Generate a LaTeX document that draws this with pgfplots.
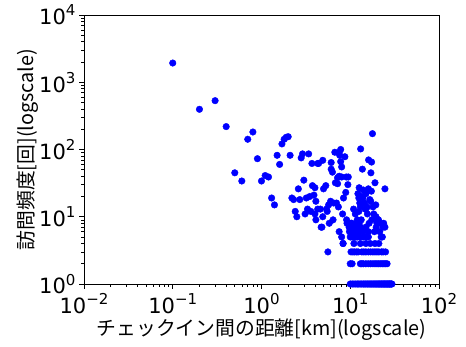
\documentclass[border=0pt]{standalone}
\usepackage{fontspec}
\setmainfont{DejaVu Sans}
\newfontfamily\jp{Noto Sans CJK JP}
\usepackage{pgfplots}
\pgfplotsset{compat=1.18}
\newcommand{\tl}[1]{10\raisebox{0.42em}{\fontsize{15}{15}\selectfont #1}}
\begin{document}
\begin{tikzpicture}
\begin{axis}[
  at={(0,0)}, anchor=south west,
  scale only axis, width=355pt, height=269pt,
  xmode=log, ymode=log,
  xmin=0.01, xmax=100, ymin=1, ymax=10000,
  xtick={0.01,0.1,1,10,100},
  xticklabels={\tl{−2},\tl{−1},\tl{0},\tl{1},\tl{2}},
  ytick={1,10,100,1000,10000},
  yticklabels={\tl{0},\tl{1},\tl{2},\tl{3},\tl{4}},
  tick pos=left, tick align=outside,
  major tick length=5pt, minor tick length=3pt,
  every tick/.style={black, line width=0.6pt},
  axis line style={line width=0.7pt},
  ticklabel style={font=\fontsize{21}{21}\selectfont},
  xticklabel style={yshift=-1pt},
  xlabel={\jp チェックイン間の距離[km](logscale)},
  ylabel={\jp 訪問頻度[回](logscale)},
  label style={font=\fontsize{19.8}{19.8}\selectfont},
  xlabel style={at={(axis description cs:0.5,-0.168)}, anchor=center},
  ylabel style={at={(axis description cs:-0.158,0.5)}, anchor=center},
  clip=true,
]
\addplot[only marks, mark=*, mark size=3.3pt, color=blue] table {
x y
0.1 1930
0.2 396
0.3 532
0.4 219
0.5 45
0.6 34
0.7 142
0.8 182
0.9 73
1.0 34
1.1 41
1.2 39
1.3 19
1.4 15
1.5 82
1.6 60
1.7 121
1.8 142
1.9 152
2.0 155
2.1 82
2.2 19
2.3 18
2.4 12
2.5 10
2.6 26
2.7 18
2.8 75
2.9 86
3.0 35
3.1 11
3.2 19
3.3 13
3.4 86
3.5 20
3.6 12
3.7 62
3.75 29
3.9 21
4.0 27
4.0 11
4.1 17
4.1 9
4.3 62
4.3 13
4.4 62
4.6 13
4.7 7
4.8 7
4.9 10
4.9 69
5.0 26
5.3 29
5.4 13
5.5 12
5.6 3
5.7 15
5.8 8
6.0 17
6.1 64
6.1 51
6.3 46
6.4 9
6.5 16
6.7 91
6.8 32
7.0 16
7.2 31
7.2 38
7.35 14
7.5 6
7.5 40
7.5 90
7.6 82
7.8 100
7.8 66
8.0 55
8.0 39
8.0 5
8.2 11
8.3 4
8.4 19
8.7 78
8.9 23
9.0 39
9.1 9
9.2 8
9.4 30
9.5 39
9.5 8
9.7 7
9.8 6
10.0 5
10.1 6
10.2 8
10.3 6
10.4 8
10.5 7
10.5 5
10.8 7
10.9 13
11.0 7
11.0 5
11.0 6
11.2 6
11.4 11
11.5 7
11.5 5
11.7 8
11.9 6
12.0 9
12.0 5
12.2 22
12.5 12
12.5 19
12.5 6
12.6 27
12.6 8
12.8 16
13.0 14
13.0 7
13.0 5
13.1 102
13.3 9
13.5 20
13.7 51
13.9 19
14.0 25
14.0 6
14.0 5
14.5 16
14.7 13
15.0 22
15.0 13
15.0 7
15.2 5
15.5 24
15.5 14
15.6 11
16.0 26
16.0 6
16.0 5
16.1 70
16.3 8
16.6 18
17.0 17
17.1 45
17.3 24
17.4 65
17.5 9
17.8 172
18.0 14
18.4 11
18.7 6
19.0 32
19.4 15
19.5 10
19.6 7
20.0 8
20.4 9
20.8 9
21.5 6
22.0 8
22.3 5
23.0 5
23.4 7
23.8 8
24.6 26
24.6 7
8.3 4
11.0 4
13.0 4
15.0 4
16.8 4
19.0 4
21.0 4
10.2 3
10.7 3
11.2 3
11.8 3
12.3 3
13.5 3
14.2 3
15.0 3
16.0 3
17.0 3
18.0 3
19.0 3
20.0 3
21.0 3
22.5 3
23.5 3
25.0 3
10.0 2
10.5 2
13.0 2
13.5 2
14.0 2
15.0 2
16.0 2
17.0 2
18.0 2
19.0 2
20.0 2
21.0 2
22.0 2
23.0 2
24.0 2
25.0 2
26.0 2
10.0 1
10.5 1
11.0 1
11.5 1
12.0 1
12.5 1
13.0 1
13.5 1
14.0 1
14.5 1
15.0 1
15.5 1
16.0 1
16.5 1
17.0 1
17.5 1
18.0 1
18.5 1
19.0 1
19.5 1
20.0 1
20.5 1
21.0 1
21.5 1
22.0 1
22.5 1
23.0 1
23.5 1
24.0 1
24.5 1
25.0 1
25.5 1
26.0 1
26.5 1
27.0 1
27.5 1
28.0 1
28.5 1
29.0 1
29.5 1
};
\end{axis}
\pgfresetboundingbox
\path[use as bounding box] (-84pt,-63pt) rectangle (382pt,284pt);
\end{tikzpicture}
\end{document}
